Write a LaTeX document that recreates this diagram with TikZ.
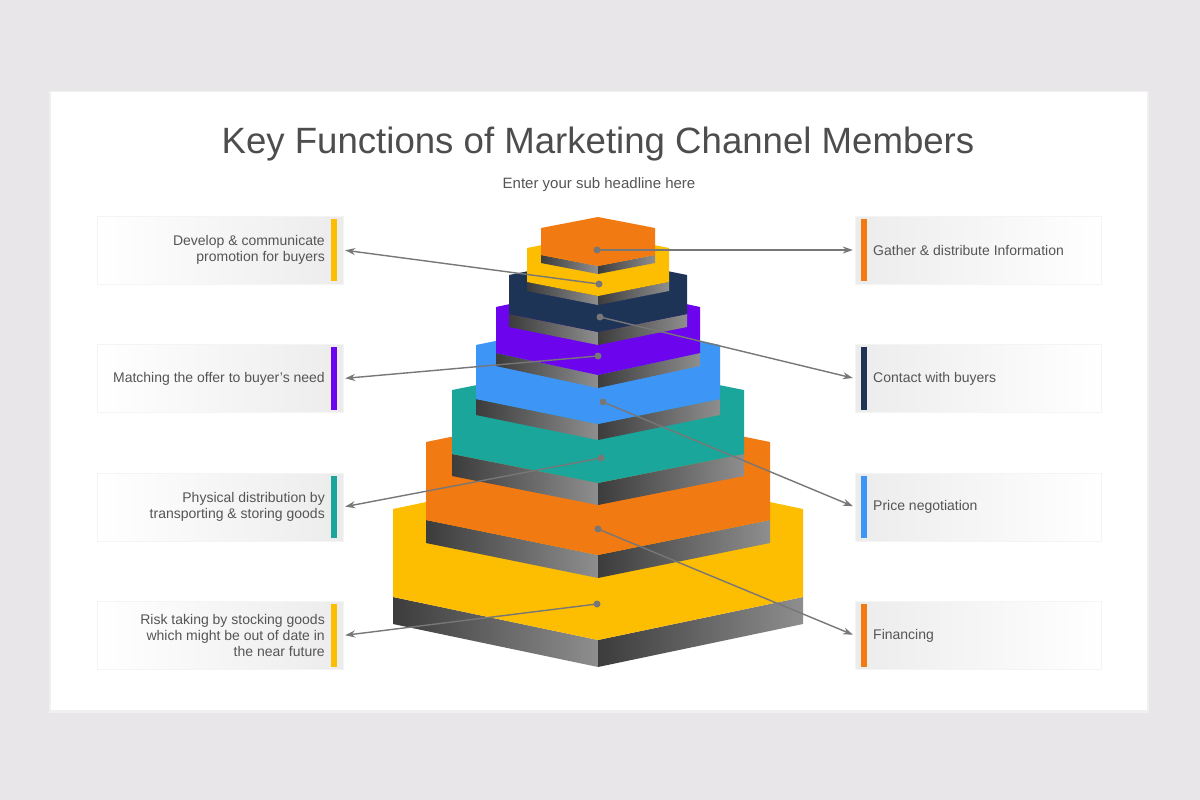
\documentclass[tikz,border=0pt]{standalone}
\usepackage{fontspec}
\setmainfont{Liberation Sans}
\usetikzlibrary{arrows.meta}

\definecolor{bggray}{HTML}{E8E6E8}
\definecolor{txtgray}{HTML}{555555}
\definecolor{titlegray}{HTML}{4D4D4D}
\definecolor{linegray}{HTML}{777777}
\definecolor{boxgray}{HTML}{ECECEC}
\definecolor{sidedark}{HTML}{3C3C3C}
\definecolor{sidelight}{HTML}{8E8E8E}
\definecolor{mkorange}{HTML}{F27A12}
\definecolor{mkyellow}{HTML}{FDBD00}
\definecolor{mknavy}{HTML}{1E3457}
\definecolor{mkpurple}{HTML}{6C04EE}
\definecolor{mkblue}{HTML}{3D96F6}
\definecolor{mkteal}{HTML}{1AA69B}

% half width, top corner y, lower corner y, rise, thickness, colour
\newcommand{\hexslab}[6]{%
  \shade[left color=sidedark,right color=sidelight] (598-#1,#3) -- (598,#3+#4) -- (598,#3+#4+#5) -- (598-#1,#3+#5) -- cycle;
  \shade[left color=sidedark,right color=sidelight] (598,#3+#4) -- (598+#1,#3) -- (598+#1,#3+#5) -- (598,#3+#4+#5) -- cycle;
  \fill[#6] (598,#2-#4) -- (598+#1,#2) -- (598+#1,#3) -- (598,#3+#4) -- (598-#1,#3) -- (598-#1,#2) -- cycle;
}

\begin{document}
\begin{tikzpicture}[x=1pt,y=-1pt,
    lbox/.style={minimum width=246pt,minimum height=68pt,inner sep=0pt,draw=boxgray!60,
      left color=white,right color=boxgray},
    rbox/.style={minimum width=246pt,minimum height=68pt,inner sep=0pt,draw=boxgray!60,
      left color=boxgray,right color=white},
    ltext/.style={anchor=east,align=right,font=\fontsize{14}{16}\selectfont,text=txtgray,inner sep=0pt},
    rtext/.style={anchor=west,align=left,font=\fontsize{14}{16}\selectfont,text=txtgray,inner sep=0pt},
    dot/.style={circle,fill=linegray,minimum size=7pt,inner sep=0pt},
    conn/.style={linegray,line width=1.4pt,-{Stealth[length=10pt,width=7pt]},shorten >=2pt}]
    \useasboundingbox (0,0) rectangle (1200,800);
    \fill[bggray] (0,0) rectangle (1200,800);
    \fill[black!6] (49,91) rectangle (1149,713);
    \fill[white] (51,92) rectangle (1147,710);

    \node[font=\fontsize{36.6}{44}\selectfont,text=titlegray,anchor=base] (title) at (598,153) {Key Functions of Marketing Channel Members};
    \node[font=\fontsize{15}{18}\selectfont,text=txtgray,anchor=base] (sub) at (599,188) {Enter your sub headline here};

    \hexslab{205}{509}{597}{43}{27}{mkyellow}
    \hexslab{172}{442}{520}{35}{23}{mkorange}
    \hexslab{146}{390}{454}{29}{22}{mkteal}
    \hexslab{122}{345}{399}{25}{16}{mkblue}
    \hexslab{102}{307}{353}{22}{13}{mkpurple}
    \hexslab{89}{275}{314}{18}{13}{mknavy}
    \hexslab{71}{248}{282}{14}{9}{mkyellow}
    \hexslab{57}{228}{255}{11}{8}{mkorange}

    \node[lbox] (l1) at (220,250) {};
    \node[lbox] (l2) at (220,378.5) {};
    \node[lbox] (l3) at (220,507) {};
    \node[lbox] (l4) at (220,635.5) {};
    \node[rbox] (r1) at (978,250) {};
    \node[rbox] (r2) at (978,378.5) {};
    \node[rbox] (r3) at (978,507) {};
    \node[rbox] (r4) at (978,635.5) {};

    \fill[mkyellow] (331,219) rectangle (337,281);
    \fill[mkpurple] (331,347) rectangle (337,410);
    \fill[mkteal] (331,476) rectangle (337,538);
    \fill[mkyellow] (331,604) rectangle (337,667);
    \fill[mkorange] (861,219) rectangle (867,281);
    \fill[mknavy] (861,347) rectangle (867,410);
    \fill[mkblue] (861,476) rectangle (867,538);
    \fill[mkorange] (861,604) rectangle (867,667);

    \node[ltext] (t1) at (325,250) {Develop \& communicate\\promotion for buyers};
    \node[ltext] (t2) at (325,378.5) {Matching the offer to buyer's need};
    \node[ltext] (t3) at (325,507) {Physical distribution by\\transporting \& storing goods};
    \node[ltext] (t4) at (325,635.5) {Risk taking by stocking goods\\which might be out of date in\\the near future};
    \node[rtext] (t5) at (873,250) {Gather \& distribute Information};
    \node[rtext] (t6) at (873,378.5) {Contact with buyers};
    \node[rtext] (t7) at (873,507) {Price negotiation};
    \node[rtext] (t8) at (873,635.5) {Financing};

    \node[dot] (d1) at (597,250) {};
    \node[dot] (d2) at (599,284) {};
    \node[dot] (d3) at (600,317) {};
    \node[dot] (d4) at (598,356) {};
    \node[dot] (d5) at (603,402) {};
    \node[dot] (d6) at (601,458) {};
    \node[dot] (d7) at (598,529) {};
    \node[dot] (d8) at (597,604) {};

    \draw[conn] (d1.center) -- (r1.west);
    \draw[conn] (d2.center) -- (l1.east);
    \draw[conn] (d3.center) -- (r2.west);
    \draw[conn] (d4.center) -- (l2.east);
    \draw[conn] (d5.center) -- (r3.west);
    \draw[conn] (d6.center) -- (l3.east);
    \draw[conn] (d7.center) -- (r4.west);
    \draw[conn] (d8.center) -- (l4.east);
\end{tikzpicture}
\end{document}
